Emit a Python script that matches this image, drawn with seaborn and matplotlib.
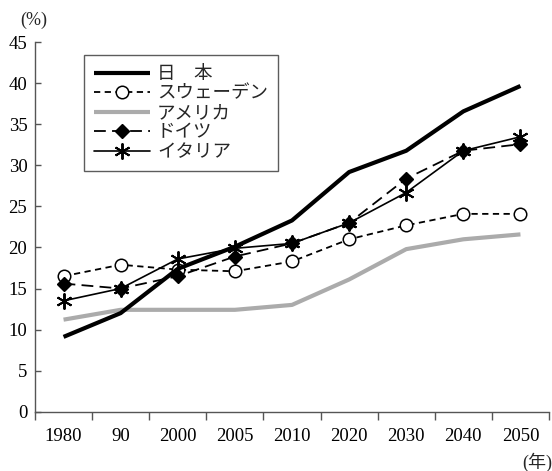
import matplotlib
matplotlib.use("Agg")
import matplotlib.pyplot as plt
import seaborn as sns
import pandas as pd
import numpy as np

# ---- data ----
years = ["1980", "90", "2000", "2005", "2010", "2020", "2030", "2040", "2050"]
japan = [9.1, 12.0, 17.4, 20.1, 23.3, 29.2, 31.8, 36.6, 39.7]
sweden = [16.5, 17.9, 17.3, 17.1, 18.3, 21.0, 22.7, 24.1, 24.1]
america = [11.2, 12.4, 12.4, 12.4, 13.0, 16.1, 19.8, 21.0, 21.6]
germany = [15.6, 15.0, 16.5, 18.9, 20.5, 23.0, 28.4, 31.8, 32.6]
italy = [13.5, 15.0, 18.6, 19.9, 20.5, 23.0, 26.7, 31.8, 33.5]
names = ["日　本", "スウェーデン", "アメリカ", "ドイツ", "イタリア"]
y_ticks = [0, 5, 10, 15, 20, 25, 30, 35, 40, 45]

sns.set_style("ticks")
plt.rcParams['font.family'] = ['Liberation Serif', 'Noto Sans CJK JP']
plt.rcParams['lines.scale_dashes'] = False

W, H = 552, 471
fig = plt.figure(figsize=(W / 100, H / 100), dpi=100)
ax = fig.add_axes([35 / W, 1 - 411.5 / H, 514 / W, 369 / H])

pos = np.arange(len(years))
df = pd.DataFrame({"pos": pos, "japan": japan, "sweden": sweden,
                   "america": america, "germany": germany, "italy": italy})

sns.lineplot(data=df, x="pos", y="america", ax=ax, color="#ababab", lw=3.0,
             label=names[2], zorder=2, solid_capstyle="butt")
sns.lineplot(data=df, x="pos", y="sweden", ax=ax, color="black", lw=1.3,
             linestyle=(0, (4.5, 3.2)), marker="o", markersize=9,
             markerfacecolor="white", markeredgecolor="black", markeredgewidth=1.1,
             label=names[1], zorder=3)
sns.lineplot(data=df, x="pos", y="germany", ax=ax, color="black", lw=1.3,
             linestyle=(0, (8.5, 4.5)), marker="D", markersize=7,
             markerfacecolor="black", markeredgecolor="black", markeredgewidth=1.0,
             label=names[3], zorder=4)
sns.lineplot(data=df, x="pos", y="italy", ax=ax, color="black", lw=1.2,
             marker=(6, 2, 0), markersize=11.5,
             markeredgecolor="black", markeredgewidth=1.4,
             label=names[4], zorder=5)
sns.lineplot(data=df, x="pos", y="japan", ax=ax, color="black", lw=3.0,
             label=names[0], zorder=6, solid_capstyle="butt")

# axes
ax.set_xlim(-0.5, len(years) - 0.5)
ax.set_ylim(0, 45)
ax.set_xlabel("")
ax.set_ylabel("")
ax.set_yticks(y_ticks)
ax.set_yticklabels([str(v) for v in y_ticks], fontsize=13.5)
ax.set_xticks(np.arange(-0.5, len(years), 1.0))
ax.set_xticklabels([])
ax.set_xticks(pos, minor=True)
ax.set_xticklabels(years, minor=True, fontsize=13.5)
ax.tick_params(axis="x", which="major", direction="out", length=6, width=1.0,
               color="#555555")
ax.tick_params(axis="x", which="minor", length=0, pad=12, colors="black")
ax.tick_params(axis="y", direction="in", length=4.5, width=1.0, color="#555555",
               pad=5.5, labelcolor="black")
for s in ["top", "right"]:
    ax.spines[s].set_visible(False)
for s in ["left", "bottom"]:
    ax.spines[s].set_color("#555555")
    ax.spines[s].set_linewidth(1.0)

# legend in reference order
handles, labels = ax.get_legend_handles_labels()
lookup = dict(zip(labels, handles))
leg = ax.legend([lookup[n] for n in names], names, loc="upper left",
                bbox_to_anchor=((84 - 35) / 514, (411.5 - 55) / 369),
                borderaxespad=0, frameon=True, fancybox=False,
                handlelength=3.0, handletextpad=0.4, labelspacing=0.08,
                borderpad=0.55, prop={"family": ["Noto Sans CJK JP"], "size": 13.3})
leg.get_frame().set_edgecolor("#333333")
leg.get_frame().set_linewidth(1.0)

fig.text(34 / W, 1 - 20 / H, "(%)", ha="center", va="center", fontsize=13)
fig.text(537 / W, 1 - 462 / H, "(年)", ha="center", va="center", fontsize=13)

fig.savefig("out.png", dpi=100)
